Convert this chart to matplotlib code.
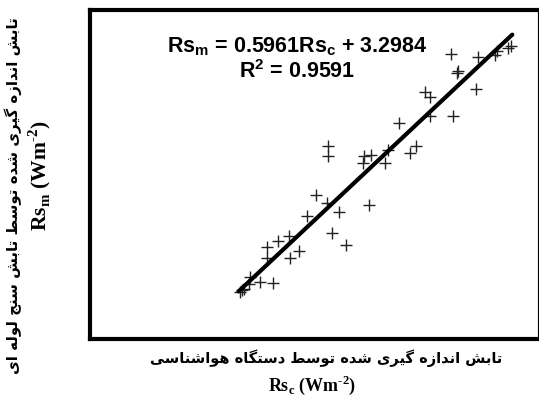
import matplotlib
matplotlib.use("Agg")
import matplotlib.pyplot as plt
import numpy as np

# ---- data -------------------------------------------------------------
rs_c = [13.43, 13.60, 13.78, 14.28, 14.23, 15.22, 16.38, 15.81, 15.81, 16.85,
        17.84, 18.71, 17.90, 19.39, 20.27, 21.21, 22.31, 21.66, 22.89, 24.94,
        21.26, 21.26, 24.52, 25.15, 24.43, 26.40, 26.63, 27.68, 28.64, 29.20,
        29.98, 30.39, 30.46, 32.49, 32.28, 32.94, 32.89, 34.57, 34.73, 36.29,
        36.47, 37.45, 37.67]
rs_m = [11.19, 11.31, 11.36, 12.05, 11.65, 11.76, 11.71, 13.77, 13.11, 14.09,
        14.35, 13.53, 13.10, 15.54, 16.71, 16.28, 15.74, 14.53, 13.84, 16.14,
        19.50, 18.90, 18.93, 18.96, 18.51, 18.51, 19.24, 20.82, 19.12, 19.51,
        22.57, 22.27, 21.20, 21.18, 24.74, 23.74, 23.62, 22.74, 24.53, 24.65,
        24.90, 25.07, 25.21]

slope = 0.5961
intercept = 3.2984
r2 = 0.9591
fit_range = [13.3, 37.8]

x_label_fa = "تابش اندازه گیری شده توسط دستگاه هواشناسی"
y_label_fa = "تابش اندازه گیری شده توسط تابش سنج لوله ای"

# ---- minimal Persian shaping (presentation forms, visual order) --------
FORMS = {  # isolated, final, initial, medial
    "ا": ("\uFE8D", "\uFE8E", None, None),
    "ب": ("\uFE8F", "\uFE90", "\uFE91", "\uFE92"),
    "ت": ("\uFE95", "\uFE96", "\uFE97", "\uFE98"),
    "ج": ("\uFE9D", "\uFE9E", "\uFE9F", "\uFEA0"),
    "د": ("\uFEA9", "\uFEAA", None, None),
    "ر": ("\uFEAD", "\uFEAE", None, None),
    "ز": ("\uFEAF", "\uFEB0", None, None),
    "س": ("\uFEB1", "\uFEB2", "\uFEB3", "\uFEB4"),
    "ش": ("\uFEB5", "\uFEB6", "\uFEB7", "\uFEB8"),
    "ط": ("\uFEC1", "\uFEC2", "\uFEC3", "\uFEC4"),
    "ل": ("\uFEDD", "\uFEDE", "\uFEDF", "\uFEE0"),
    "ن": ("\uFEE5", "\uFEE6", "\uFEE7", "\uFEE8"),
    "ه": ("\uFEE9", "\uFEEA", "\uFEEB", "\uFEEC"),
    "و": ("\uFEED", "\uFEEE", None, None),
    "ی": ("\uFBFC", "\uFBFD", "\uFBFE", "\uFBFF"),
    "گ": ("\uFB92", "\uFB93", "\uFB94", "\uFB95"),
}


def dual(ch):
    return ch in FORMS and FORMS[ch][2] is not None


def shape(text):
    out = []
    for i, ch in enumerate(text):
        if ch not in FORMS:
            out.append(ch)
            continue
        prev = text[i - 1] if i > 0 else ""
        nxt = text[i + 1] if i + 1 < len(text) else ""
        join_prev = dual(prev)
        join_next = dual(ch) and nxt in FORMS
        iso, fin, ini, med = FORMS[ch]
        if join_prev and join_next:
            out.append(med)
        elif join_prev:
            out.append(fin)
        elif join_next:
            out.append(ini)
        else:
            out.append(iso)
    return "".join(out)[::-1]


# ---- figure -----------------------------------------------------------
fig = plt.figure(figsize=(5.39, 4.07), dpi=100)
ax = fig.add_axes([90 / 539, 1 - 339 / 407, 450 / 539, 329 / 407])

ax.plot(rs_c, rs_m, linestyle="none", marker="+", markersize=8,
        markeredgewidth=1.0, color="#222222")

xf = np.array(fit_range)
ax.plot(xf, slope * xf + intercept, color="black", linewidth=3.0,
        solid_capstyle="round")

ax.set_xlim(0, 40.28)
ax.set_ylim(8.52, 27.23)
ax.set_xticks([])
ax.set_yticks([])
for sp in ax.spines.values():
    sp.set_linewidth(3.0)
    sp.set_color("black")

eq_kw = dict(transform=ax.transAxes, ha="center", va="baseline",
             fontsize=15.5, fontweight="bold", family="Liberation Sans")
ax.text(0.461, 0.872,
        r"Rs$_\mathregular{m}$ = %.4fRs$_\mathregular{c}$ + %.4f" % (slope, intercept),
        **eq_kw)
ax.text(0.461, 0.793, r"R$^\mathregular{2}$ = %.4f" % r2, **eq_kw)

fa_font = ["DejaVu Sans"]
unit = " (Wm$^\\mathregular{\u20102}$)"
serif = ["Liberation Serif", "DejaVu Serif"]
fig.text(326 / 539, 1 - 358 / 407, shape(x_label_fa), ha="center", va="center",
         fontsize=10.5, fontweight="bold", family=fa_font)
fig.text(312 / 539, 1 - 385 / 407, r"Rs$_\mathregular{c}$" + unit,
         ha="center", va="center", fontsize=13, fontweight="bold",
         family=serif)

fig.text(13 / 539, 1 - 196 / 407, shape(y_label_fa), ha="center", va="center",
         rotation=90, fontsize=10.8, fontweight="bold", family=fa_font)
fig.text(40 / 539, 1 - 176 / 407, r"Rs$_\mathregular{m}$" + unit,
         ha="center", va="center", rotation=90, fontsize=15.5,
         fontweight="bold", family=serif)

fig.savefig("out.png", dpi=100)
